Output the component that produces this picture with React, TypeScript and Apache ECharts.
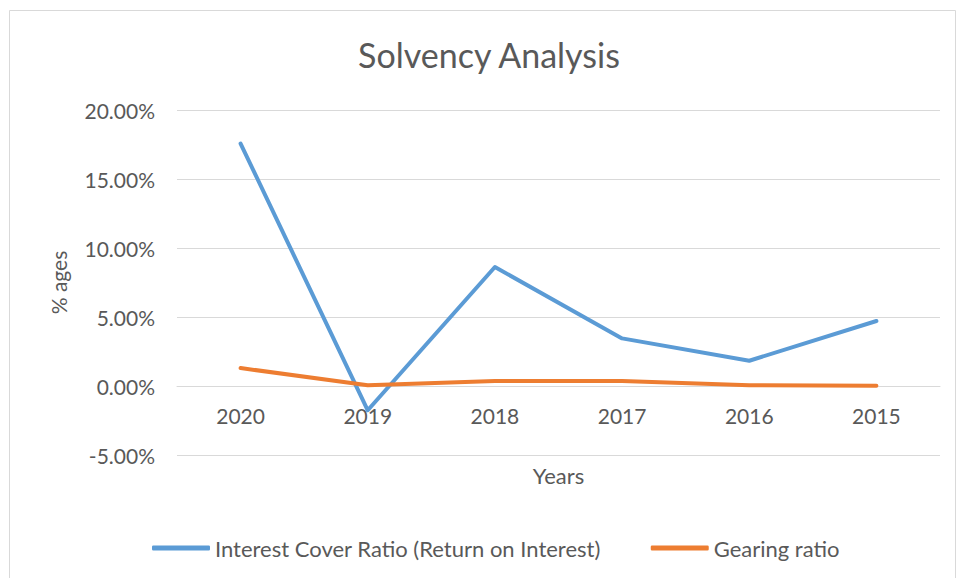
import React, { useEffect, useRef } from "react";
import * as echarts from "echarts";

const categories = ["2020", "2019", "2018", "2017", "2016", "2015"];
const interestCover = [17.57, -1.76, 8.62, 3.45, 1.83, 4.71];
const gearing = [1.3, 0.05, 0.36, 0.36, 0.05, 0.01];
const seriesNames = ["Interest Cover Ratio (Return on Interest)", "Gearing ratio"];

const FONT = "Lato";
const TXT = "#595959";

export default function App() {
  const ref = useRef<HTMLDivElement>(null);
  useEffect(() => {
    if (!ref.current) return;
    const chart = echarts.init(ref.current, undefined, { renderer: "svg" });
    chart.setOption({
      animation: false,
      backgroundColor: "#ffffff",
      title: {
        text: "Solvency Analysis",
        left: 484,
        top: 32,
        textAlign: "center",
        textStyle: { fontFamily: FONT, fontSize: 34, fontWeight: "normal", color: TXT },
      },
      graphic: [
        {
          type: "rect",
          shape: { x: 9.5, y: 10.5, width: 946, height: 580 },
          style: { fill: "none", stroke: "#d9d9d9", lineWidth: 1 },
          silent: true,
        },
      ],
      legend: {
        top: 532,
        left: 147,
        itemWidth: 58,
        itemHeight: 5,
        itemGap: 50,
        icon: "roundRect",
        textStyle: { fontFamily: FONT, fontSize: 22, color: TXT },
        data: seriesNames,
      },
      grid: { left: 177, right: 16, top: 110, bottom: 123 },
      xAxis: {
        type: "category",
        data: categories,
        boundaryGap: true,
        offset: -69,
        name: "Years",
        nameLocation: "middle",
        nameGap: 78,
        nameTextStyle: { fontFamily: FONT, fontSize: 22, color: TXT },
        axisLine: { onZero: false, lineStyle: { color: "#d9d9d9", width: 1 } },
        axisTick: { show: false },
        axisLabel: { fontFamily: FONT, fontSize: 21, color: TXT, margin: 19 },
      },
      yAxis: {
        type: "value",
        min: -5,
        max: 20,
        interval: 5,
        name: "% ages",
        nameLocation: "middle",
        nameGap: 108,
        nameTextStyle: { fontFamily: FONT, fontSize: 21, color: TXT },
        axisLine: { show: false },
        axisTick: { show: false },
        axisLabel: {
          fontFamily: FONT,
          fontSize: 21,
          color: TXT,
          margin: 22,
          formatter: (v: number) => v.toFixed(2) + "%",
        },
        splitLine: { lineStyle: { color: "#d9d9d9", width: 1 } },
      },
      series: [
        {
          name: seriesNames[0],
          type: "line",
          data: interestCover,
          symbol: "none",
          lineStyle: { color: "#5B9BD5", width: 4, cap: "round", join: "round" },
          itemStyle: { color: "#5B9BD5" },
        },
        {
          name: seriesNames[1],
          type: "line",
          data: gearing,
          symbol: "none",
          lineStyle: { color: "#ED7D31", width: 4, cap: "round", join: "round" },
          itemStyle: { color: "#ED7D31" },
        },
      ],
    });
    return () => chart.dispose();
  }, []);
  return (
    <div
      ref={ref}
      style={{ position: "fixed", left: 0, top: 0, width: 956, height: 578 }}
    />
  );
}
